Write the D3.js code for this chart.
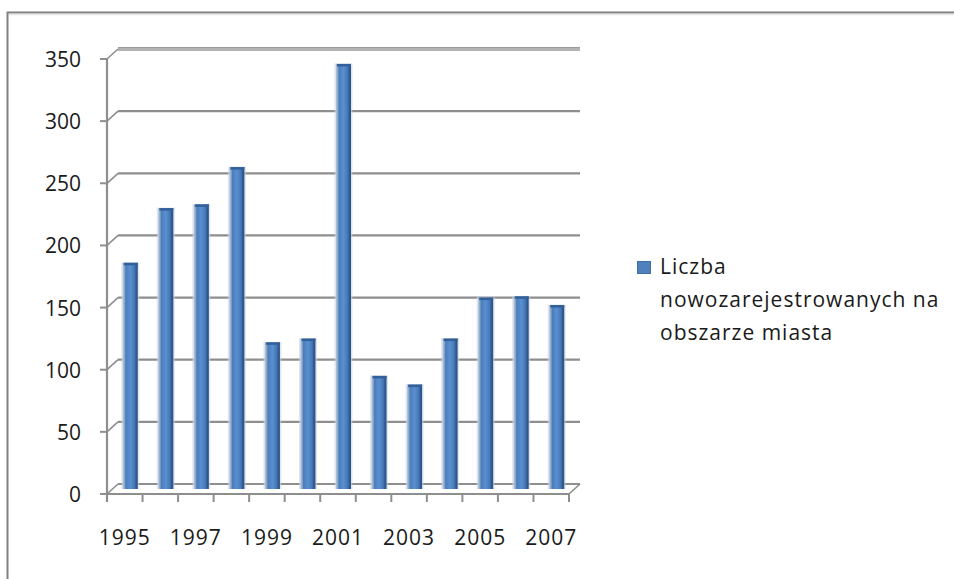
<!DOCTYPE html>
<html>
<head>
<meta charset="utf-8">
<script src="https://cdn.jsdelivr.net/npm/d3@7"></script>
<style>
  html, body { margin: 0; padding: 0; background: #ffffff; }
  svg { display: block; }
  text { font-family: "Open Sans", "DejaVu Sans", sans-serif; fill: #1a1a1a; }
</style>
</head>
<body>
<svg id="chart" width="954" height="579"></svg>
<script>
// Registered in the city area per year
const years = ["1995","1996","1997","1998","1999","2000","2001","2002","2003","2004","2005","2006","2007"];
const registered = [182, 226, 229, 259, 118, 121, 342, 91, 84, 121, 154, 155, 148];
const yTicks = [0, 50, 100, 150, 200, 250, 300, 350];
const xLabelYears = ["1995","1997","1999","2001","2003","2005","2007"];
const seriesName = ["Liczba", "nowozarejestrowanych na", "obszarze miasta"];

const svg = d3.select("#chart");

// outer chart frame
svg.append("rect")
  .attr("x", 7.5).attr("y", 12.5).attr("width", 960).attr("height", 580)
  .attr("fill", "none").attr("stroke", "#808080").attr("stroke-width", 2);
svg.append("line")
  .attr("x1", 9).attr("x2", 954).attr("y1", 14.5).attr("y2", 14.5)
  .attr("stroke", "#e6e6e6").attr("stroke-width", 1.5);

// front plane scales, depth offset to back wall
const x = d3.scaleBand().domain(years).range([107, 569]).paddingInner(0).paddingOuter(0);
const y = d3.scaleLinear().domain([0, 350]).range([494, 59]);
const DX = 11, DY = -10;

const defs = svg.append("defs");
const grad = defs.append("linearGradient").attr("id", "barGrad")
  .attr("x1", "0%").attr("x2", "100%").attr("y1", "0%").attr("y2", "0%");
[["0%", "#b7c6da"], ["12%", "#8aa6cb"], ["20%", "#4a7dbb"], ["50%", "#5a8fd0"],
 ["78%", "#4677b5"], ["88%", "#2f5b93"], ["100%", "#2c5588"]]
  .forEach(([o, c]) => grad.append("stop").attr("offset", o).attr("stop-color", c));

const gridCol = "#8e8e8e";
const grid = svg.append("g");

// back-wall gridlines with diagonal connectors to the front axis
yTicks.forEach(v => {
  const top = v === 350;
  grid.append("line")
    .attr("x1", x.range()[0] + DX).attr("x2", x.range()[1] + DX)
    .attr("y1", y(v) + DY).attr("y2", y(v) + DY)
    .attr("stroke", top ? "#b3b3b3" : gridCol)
    .attr("stroke-width", top ? 4 : 2.2);
  if (top) {
    grid.append("line")
      .attr("x1", x.range()[0] + DX).attr("x2", x.range()[1] + DX)
      .attr("y1", y(v) + DY - 1.5).attr("y2", y(v) + DY - 1.5)
      .attr("stroke", "#9a9a9a").attr("stroke-width", 1);
  }
  grid.append("line")
    .attr("x1", x.range()[0]).attr("y1", y(v))
    .attr("x2", x.range()[0] + DX).attr("y2", y(v) + DY)
    .attr("stroke", gridCol).attr("stroke-width", 1.6);
  // tick on the front value axis
  grid.append("line")
    .attr("x1", x.range()[0] - 7).attr("x2", x.range()[0])
    .attr("y1", y(v)).attr("y2", y(v))
    .attr("stroke", gridCol).attr("stroke-width", 2);
});

// floor right edge
grid.append("line")
  .attr("x1", x.range()[1]).attr("y1", y(0))
  .attr("x2", x.range()[1] + DX).attr("y2", y(0) + DY)
  .attr("stroke", gridCol).attr("stroke-width", 1.6);

// front value axis
grid.append("line")
  .attr("x1", x.range()[0]).attr("x2", x.range()[0])
  .attr("y1", y(350)).attr("y2", y(0) + 8)
  .attr("stroke", gridCol).attr("stroke-width", 2.2);

// front category axis with tick marks at band edges
grid.append("line")
  .attr("x1", x.range()[0] - 7).attr("x2", x.range()[1])
  .attr("y1", y(0)).attr("y2", y(0))
  .attr("stroke", gridCol).attr("stroke-width", 2.2);
const edges = years.map(d => x(d)).concat([x.range()[1]]);
grid.selectAll(".xtick").data(edges).join("line")
  .attr("class", "xtick")
  .attr("x1", d => d).attr("x2", d => d)
  .attr("y1", y(0)).attr("y2", y(0) + 8)
  .attr("stroke", gridCol).attr("stroke-width", 2);

// columns, placed at mid depth
const bw = 15;
const bars = svg.append("g");
years.forEach((yr, i) => {
  const v = registered[i];
  const cx = x(yr) + x.bandwidth() / 2 + DX / 2;
  const yb = y(0) + DY / 2;
  const yt = y(v) + DY / 2;
  // soft halo
  bars.append("rect")
    .attr("x", cx - bw / 2 - 1.5).attr("y", yt - 0.5)
    .attr("width", bw + 3).attr("height", yb - yt + 0.5)
    .attr("fill", "#c9d3e0").attr("opacity", 0.6);
  bars.append("rect")
    .attr("x", cx - bw / 2).attr("y", yt)
    .attr("width", bw).attr("height", yb - yt)
    .attr("fill", "url(#barGrad)");
  // top cap
  bars.append("rect")
    .attr("x", cx - bw / 2 + 1).attr("y", yt)
    .attr("width", bw - 1).attr("height", 2.5)
    .attr("fill", "#34609a");
});

// value axis labels
svg.append("g").selectAll("text").data(yTicks).join("text")
  .attr("x", 81).attr("y", d => y(d) + 8)
  .attr("text-anchor", "end")
  .attr("font-size", 21)
  .text(d => d);

// category labels
svg.append("g").selectAll("text").data(xLabelYears).join("text")
  .attr("x", d => x(d) + x.bandwidth() / 2)
  .attr("y", 545)
  .attr("text-anchor", "middle")
  .attr("font-size", 21)
  .attr("letter-spacing", 1)
  .text(d => d);

// legend
const lg = svg.append("g");
lg.append("rect")
  .attr("x", 637.5).attr("y", 261.5).attr("width", 13).attr("height", 12)
  .attr("fill", "#4f81bd").attr("stroke", "#3f6fa8").attr("stroke-width", 1);
lg.selectAll("text").data(seriesName).join("text")
  .attr("x", 660)
  .attr("y", (d, i) => 274 + i * 33)
  .attr("font-size", 21)
  .attr("letter-spacing", 1)
  .text(d => d);
</script>
</body>
</html>
